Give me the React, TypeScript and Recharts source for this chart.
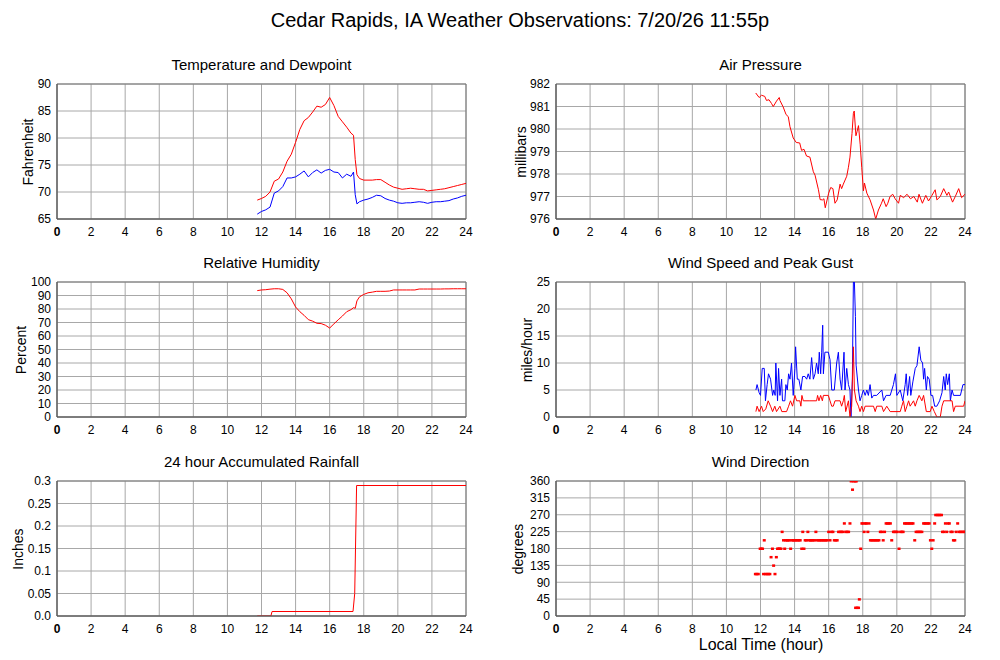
import React from 'react'
import { ComposedChart, Line, Scatter, XAxis, YAxis, CartesianGrid, ReferenceArea } from 'recharts'

// hours of the day on every x axis
const hourTicks = [0, 2, 4, 6, 8, 10, 12, 14, 16, 18, 20, 22, 24]

// temperature, dewpoint and humidity share these observation times
const obsHours = [
  11.75, 12.0, 12.25, 12.5, 12.75, 13.0, 13.25, 13.5, 13.75, 14.0, 14.25, 14.5, 14.75, 15.0,
  15.25, 15.5, 15.75, 16.0, 16.25, 16.5, 16.75, 17.0, 17.25, 17.4, 17.5, 17.6, 17.75, 18.0,
  18.25, 18.5, 18.75, 19.0, 19.25, 19.5, 19.75, 20.0, 20.25, 20.5, 20.75, 21.0, 21.25, 21.5,
  21.75, 22.0, 22.25, 22.5, 22.75, 23.0, 23.25, 23.5, 23.75, 24.0,
]
const temperature = [
  68.5, 68.8, 69.2, 70.0, 72.0, 72.4, 73.7, 75.7, 77.0, 79.2, 81.6, 83.2, 83.8, 84.8,
  85.9, 85.7, 86.2, 87.5, 86.0, 84.0, 83.0, 82.0, 80.9, 80.5, 76.0, 73.2, 72.5, 72.2,
  72.2, 72.2, 72.3, 72.3, 71.8, 71.3, 70.9, 70.7, 70.5, 70.6, 70.7, 70.6, 70.5, 70.5,
  70.2, 70.3, 70.4, 70.5, 70.6, 70.8, 71.0, 71.2, 71.4, 71.6,
]
const dewpoint = [
  65.9, 66.4, 66.7, 67.2, 69.8, 70.2, 71.0, 72.6, 72.6, 72.8, 73.3, 73.9, 72.8, 73.6,
  74.1, 73.5, 74.0, 74.2, 73.7, 73.6, 72.6, 73.3, 72.9, 73.7, 69.5, 67.8, 68.2, 68.5,
  68.7, 69.0, 69.4, 69.3, 68.8, 68.5, 68.3, 68.0, 67.9, 68.0, 68.0, 68.1, 68.2, 68.1,
  67.9, 68.1, 68.2, 68.2, 68.3, 68.4, 68.7, 68.9, 69.2, 69.4,
]
const humidity = [
  93.6, 94.1, 94.3, 94.7, 95.0, 95.0, 94.5, 92.0, 87.5, 81.5, 78.0, 75.3, 72.1, 71.0,
  69.4, 69.2, 68.0, 65.9, 69.0, 72.0, 74.8, 78.0, 79.5, 81.0, 80.5, 86.0, 89.0, 90.8,
  92.0, 92.5, 93.1, 93.1, 93.1, 93.3, 94.1, 94.1, 94.1, 94.1, 94.1, 94.1, 94.8, 94.8,
  94.8, 94.8, 94.8, 94.8, 94.9, 94.9, 95.0, 95.0, 95.0, 95.0,
]

const pressureHours = [
  11.72, 11.92, 12.06, 12.25, 12.35, 12.5, 12.65, 12.75, 12.94, 13.1, 13.14, 13.33, 13.5,
  13.63, 13.73, 13.92, 14.1, 14.3, 14.41, 14.55, 14.7, 14.9, 15.1, 15.2, 15.4, 15.5, 15.65,
  15.72, 15.8, 16.0, 16.12, 16.25, 16.37, 16.5, 16.67, 16.76, 16.86, 17.06, 17.16, 17.25,
  17.37, 17.45, 17.5, 17.6, 17.67, 17.75, 17.85, 17.94, 18.04, 18.1, 18.24, 18.43, 18.63,
  18.76, 18.92, 19.1, 19.2, 19.37, 19.47, 19.6, 19.76, 19.9, 20.1, 20.2, 20.4, 20.6, 20.8,
  21.0, 21.2, 21.3, 21.5, 21.7, 21.86, 22.06, 22.25, 22.35, 22.55, 22.75, 22.94, 23.04,
  23.27, 23.43, 23.63, 23.8, 24.0,
]
const pressure = [
  981.6, 981.4, 981.5, 981.45, 981.27, 981.3, 981.13, 981.0, 981.24, 981.4, 981.27, 980.98, 980.64,
  980.55, 980.1, 979.6, 979.4, 979.38, 979.05, 979.1, 978.8, 978.75, 978.1, 977.95, 977.3, 976.86, 976.85,
  976.9, 976.5, 977.15, 977.4, 977.35, 976.7, 976.85, 977.55, 977.35, 977.55, 977.9, 978.3, 978.75,
  979.8, 980.7, 980.8, 979.7, 979.9, 980.15, 979.3, 978.3, 977.25, 977.6, 977.15, 976.85, 976.4,
  976.0, 976.4, 976.7, 976.9, 976.55, 976.7, 977.0, 977.1, 976.9, 976.7, 977.05, 976.95, 977.1, 976.9,
  977.0, 976.75, 977.1, 976.7, 977.05, 976.8, 977.05, 977.3, 976.85, 977.0, 977.35, 977.05, 977.2,
  976.75, 977.0, 977.35, 976.95, 977.1,
]

const rainHours = [11.75, 12.55, 12.62, 17.37, 17.47, 17.58, 24.0]
const rainfall = [0, 0, 0.01, 0.01, 0.05, 0.29, 0.29]

const gustHours = [
  11.73, 11.8, 11.92, 12.0, 12.1, 12.22, 12.29, 12.39, 12.47, 12.59, 12.71, 12.78, 12.86, 12.9,
  13.0, 13.06, 13.14, 13.24, 13.29, 13.43, 13.49, 13.57, 13.65, 13.73, 13.82, 13.92, 14.02, 14.06,
  14.16, 14.25, 14.37, 14.47, 14.61, 14.71, 14.8, 14.9, 15.0, 15.1, 15.2, 15.29, 15.39, 15.45,
  15.53, 15.59, 15.65, 15.69, 15.78, 15.98, 16.08, 16.18, 16.33, 16.47, 16.57, 16.67, 16.76, 16.9,
  16.96, 17.06, 17.16, 17.25, 17.31, 17.39, 17.45, 17.51, 17.57, 17.61, 17.75, 17.84, 17.94, 18.04,
  18.14, 18.24, 18.33, 18.43, 18.53, 18.63, 18.82, 19.12, 19.22, 19.37, 19.61, 19.8, 19.92, 20.0,
  20.2, 20.35, 20.49, 20.55, 20.63, 20.75, 20.82, 20.94, 21.08, 21.18, 21.31, 21.41, 21.51, 21.57,
  21.63, 21.73, 21.8, 21.9, 22.0, 22.1, 22.22, 22.35, 22.51, 22.65, 22.75, 22.84, 22.9, 22.98,
  23.08, 23.14, 23.24, 23.33, 23.73, 23.88, 24.0,
]
const gust = [
  5, 6, 4.5, 4, 9, 9, 3, 6, 8, 7, 4, 5, 4, 10,
  3, 9, 4, 7, 3, 3, 6, 5, 8, 7, 10, 4, 9, 13,
  7, 7, 5, 7.5, 7.5, 7, 8, 7, 11, 7, 8, 10, 8, 12,
  8, 12, 17, 8, 12, 12, 10.6, 5, 5, 10, 12, 7, 5, 12,
  5, 9, 6, 5, 0, 7, 25, 25, 18.6, 9.6, 5, 3, 4, 5,
  4, 5, 4, 6, 3.5, 4, 4, 5, 3, 4, 4, 6, 8, 4,
  5, 3, 6, 8, 4, 7.5, 4, 6.5, 9, 9.5, 13, 10.5, 10, 7,
  9, 5, 7.5, 7, 4, 4, 2, 2, 3, 4.5, 7.5, 5, 8, 6,
  8, 3, 5, 4, 4, 6, 6,
]

const speedHours = [
  11.73, 11.8, 11.92, 12.06, 12.16, 12.31, 12.45, 12.59, 12.71, 12.84, 12.94, 13.14, 13.25, 13.53,
  13.65, 13.76, 13.88, 14.02, 14.12, 14.31, 14.37, 14.43, 14.51, 14.9, 15.29, 15.35, 15.43, 15.53,
  15.63, 15.69, 15.98, 16.08, 16.18, 16.27, 16.37, 16.67, 16.76, 16.86, 16.92, 17.0, 17.16, 17.25,
  17.35, 17.45, 17.51, 17.61, 17.75, 17.84, 17.94, 18.04, 18.14, 18.63, 18.73, 18.82, 19.12, 19.22,
  19.41, 19.61, 20.2, 20.29, 20.39, 20.49, 20.59, 20.69, 20.78, 20.98, 21.08, 21.18, 21.31, 21.47,
  21.57, 21.73, 21.96, 22.06, 22.2, 22.35, 22.55, 22.65, 22.75, 23.24, 23.33, 23.43, 23.92, 24.0,
]
const speed = [
  1, 2, 1, 2, 1, 1.5, 3, 2, 1, 2, 1, 2, 1, 1,
  2, 3, 2, 4, 3, 3, 2, 4, 3, 3, 3, 4, 3, 4,
  3, 4, 4, 3, 2, 2, 3, 3, 2, 3, 4, 1, 3, 0,
  2, 13, 5, 3, 2, 1, 2, 1, 2, 2, 1, 2, 2, 1,
  2, 1, 1, 2, 3, 1, 2, 3, 2, 3, 2, 3, 4, 3,
  4, 1, 1, 2, 1, 0, 0, 2, 3, 3, 1, 2, 2, 3,
]

const dirHours = [
  11.7, 11.78, 11.87, 11.98, 12.05, 12.12, 12.18, 12.22, 12.3, 12.38, 12.47, 12.55, 12.62, 12.7,
  12.77, 12.85, 12.93, 13.0, 13.07, 13.13, 13.2, 13.27, 13.35, 13.42, 13.48, 13.55, 13.62, 13.7,
  13.77, 13.85, 13.92, 14.0, 14.08, 14.17, 14.25, 14.33, 14.42, 14.48, 14.55, 14.62, 14.7, 14.78,
  14.85, 14.93, 15.0, 15.08, 15.17, 15.25, 15.33, 15.42, 15.5, 15.58, 15.67, 15.75, 15.83, 15.92,
  16.0, 16.08, 16.17, 16.25, 16.33, 16.42, 16.5, 16.58, 16.67, 16.75, 16.83, 16.92, 17.0, 17.08,
  17.17, 17.25, 17.32, 17.4, 17.45, 17.55, 17.62, 17.58, 17.67, 17.75, 17.8, 17.88, 17.95, 18.02,
  18.08, 18.15, 18.22, 18.3, 18.37, 18.45, 18.53, 18.62, 18.7, 18.78, 18.87, 18.95, 19.03, 19.12,
  19.2, 19.28, 19.37, 19.45, 19.53, 19.62, 19.7, 19.8, 19.87, 19.95, 20.03, 20.13, 20.22, 20.3,
  20.37, 20.45, 20.53, 20.62, 20.7, 20.78, 20.87, 20.95, 21.05, 21.13, 21.22, 21.3, 21.38, 21.47,
  21.57, 21.65, 21.73, 21.82, 21.9, 21.97, 22.05, 22.13, 22.22, 22.28, 22.37, 22.45, 22.53, 22.62,
  22.68, 22.77, 22.85, 22.93, 23.0, 23.08, 23.17, 23.25, 23.32, 23.4, 23.48, 23.57, 23.65, 23.73,
  23.82, 23.9, 23.98,
]
const dirDegrees = [
  112.5, 112.5, 112.5, 180, 180, 180, 112.5, 202.5, 112.5, 112.5, 112.5, 112.5, 157.5, 180,
  135, 112.5, 157.5, 180, 180, 180, 180, 225, 202.5, 180, 202.5, 202.5, 202.5, 202.5,
  180, 202.5, 202.5, 202.5, 202.5, 202.5, 202.5, 202.5, 180, 225, 180, 202.5, 202.5, 225,
  202.5, 202.5, 202.5, 202.5, 202.5, 225, 202.5, 202.5, 202.5, 202.5, 202.5, 202.5, 202.5, 202.5,
  225, 202.5, 225, 225, 202.5, 202.5, 202.5, 225, 225, 225, 225, 247.5, 225, 225,
  225, 247.5, 360, 337.5, 360, 360, 360, 22.5, 22.5, 22.5, 45, 180, 247.5, 247.5,
  225, 247.5, 247.5, 225, 247.5, 202.5, 202.5, 202.5, 202.5, 202.5, 202.5, 202.5, 225, 225,
  202.5, 225, 247.5, 247.5, 247.5, 247.5, 202.5, 225, 225, 225, 225, 180, 225, 225,
  225, 247.5, 247.5, 247.5, 247.5, 247.5, 247.5, 247.5, 202.5, 225, 225, 225, 225, 225,
  247.5, 247.5, 247.5, 247.5, 247.5, 202.5, 180, 202.5, 247.5, 270, 270, 270, 270, 270,
  225, 225, 247.5, 225, 247.5, 247.5, 225, 225, 202.5, 202.5, 225, 247.5, 225, 225,
  225, 225, 225,
]

const toPoints = (hours: number[], values: number[]) => hours.map((h, i) => ({ h, v: values[i] }))

const PLOT_W = 409
const PLOT_H = 135
const AXIS_W = 57
const MT = 10
const MR = 14
const XH = 25
const FONT = '"Liberation Sans", Arial, Helvetica, sans-serif'

const HourTick = (p: any) => (
  <text
    x={p.x}
    y={p.y}
    dy="0.71em"
    textAnchor="middle"
    fontSize={12}
    fill="#000"
    fontWeight={p.payload.value === 0 ? 'bold' : 'normal'}
  >
    {p.payload.value}
  </text>
)

const Square = (p: any) => <rect x={p.cx - 1.5} y={p.cy - 1} width={3} height={2.5} fill="#ff0000" />

interface PanelProps {
  title: string
  yLabel: string
  yLabelX: number
  left: number
  top: number
  domain: [number, number]
  ticks: number[]
  tickFormat?: (v: number) => string
  children: React.ReactNode
}

function Panel({ title, yLabel, yLabelX, left, top, domain, ticks, tickFormat, children }: PanelProps) {
  return (
    <>
      <div style={{ position: 'absolute', left, top: top - 28, width: PLOT_W, textAlign: 'center', fontSize: 15 }}>
        {title}
      </div>
      <div
        style={{
          position: 'absolute',
          left: yLabelX,
          top: top + PLOT_H / 2,
          transform: 'translate(-50%, -50%) rotate(-90deg)',
          fontSize: 14,
          whiteSpace: 'nowrap',
        }}
      >
        {yLabel}
      </div>
      <div style={{ position: 'absolute', left: left - AXIS_W, top: top - MT }}>
        <ComposedChart
          width={AXIS_W + PLOT_W + MR}
          height={MT + PLOT_H + XH}
          margin={{ top: MT, right: MR, bottom: 0, left: 0 }}
        >
          <CartesianGrid stroke="#a8a8a8" />
          <XAxis
            type="number"
            dataKey="h"
            domain={[0, 24]}
            ticks={hourTicks}
            interval={0}
            allowDataOverflow
            height={XH}
            tick={HourTick}
            tickLine={false}
            axisLine={{ stroke: '#555' }}
          />
          <YAxis
            type="number"
            dataKey="v"
            domain={domain}
            ticks={ticks}
            interval={0}
            allowDataOverflow
            width={AXIS_W}
            tickFormatter={tickFormat}
            tick={{ fill: '#000', fontSize: 12 }}
            tickLine={false}
            tickSize={4}
            axisLine={{ stroke: '#555' }}
          />
          <ReferenceArea x1={0} x2={24} y1={domain[0]} y2={domain[1]} fill="none" stroke="#777" />
          {children}
        </ComposedChart>
      </div>
    </>
  )
}

export default function App() {
  return (
    <div
      style={{
        position: 'absolute',
        left: 0,
        top: 0,
        width: 1000,
        height: 660,
        background: '#fff',
        fontFamily: FONT,
        color: '#000',
      }}
    >
      <div style={{ position: 'absolute', left: 20, top: 9, width: 1000, textAlign: 'center', fontSize: 20 }}>
        Cedar Rapids, IA Weather Observations: 7/20/26 11:55p
      </div>

      <Panel title="Temperature and Dewpoint" yLabel="Fahrenheit" yLabelX={28} left={57} top={84}
        domain={[65, 90]} ticks={[65, 70, 75, 80, 85, 90]}>
        <Line data={toPoints(obsHours, temperature)} dataKey="v" stroke="#ff0000" strokeWidth={1} dot={false} isAnimationActive={false} />
        <Line data={toPoints(obsHours, dewpoint)} dataKey="v" stroke="#0000ff" strokeWidth={1} dot={false} isAnimationActive={false} />
      </Panel>

      <Panel title="Air Pressure" yLabel="millibars" yLabelX={521} left={556} top={84}
        domain={[976, 982]} ticks={[976, 977, 978, 979, 980, 981, 982]}>
        <Line data={toPoints(pressureHours, pressure)} dataKey="v" stroke="#ff0000" strokeWidth={1} dot={false} isAnimationActive={false} />
      </Panel>

      <Panel title="Relative Humidity" yLabel="Percent" yLabelX={21} left={57} top={282}
        domain={[0, 100]} ticks={[0, 10, 20, 30, 40, 50, 60, 70, 80, 90, 100]}>
        <Line data={toPoints(obsHours, humidity)} dataKey="v" stroke="#ff0000" strokeWidth={1} dot={false} isAnimationActive={false} />
      </Panel>

      <Panel title="Wind Speed and Peak Gust" yLabel="miles/hour" yLabelX={527} left={556} top={282}
        domain={[0, 25]} ticks={[0, 5, 10, 15, 20, 25]}>
        <Line data={toPoints(gustHours, gust)} dataKey="v" stroke="#0000ff" strokeWidth={1} dot={false} isAnimationActive={false} />
        <Line data={toPoints(speedHours, speed)} dataKey="v" stroke="#ff0000" strokeWidth={1} dot={false} isAnimationActive={false} />
      </Panel>

      <Panel title="24 hour Accumulated Rainfall" yLabel="Inches" yLabelX={18} left={57} top={481}
        domain={[0, 0.3]} ticks={[0, 0.05, 0.1, 0.15, 0.2, 0.25, 0.3]}
        tickFormat={(v) => (v === 0 ? '0.0' : String(v))}>
        <Line data={toPoints(rainHours, rainfall)} dataKey="v" stroke="#ff0000" strokeWidth={1} dot={false} isAnimationActive={false} />
      </Panel>

      <Panel title="Wind Direction" yLabel="degrees" yLabelX={518} left={556} top={481}
        domain={[0, 360]} ticks={[0, 45, 90, 135, 180, 225, 270, 315, 360]}>
        <Scatter data={toPoints(dirHours, dirDegrees)} dataKey="v" shape={Square} isAnimationActive={false} />
      </Panel>

      <div style={{ position: 'absolute', left: 661, top: 636, width: 200, textAlign: 'center', fontSize: 16 }}>
        Local Time (hour)
      </div>
    </div>
  )
}
